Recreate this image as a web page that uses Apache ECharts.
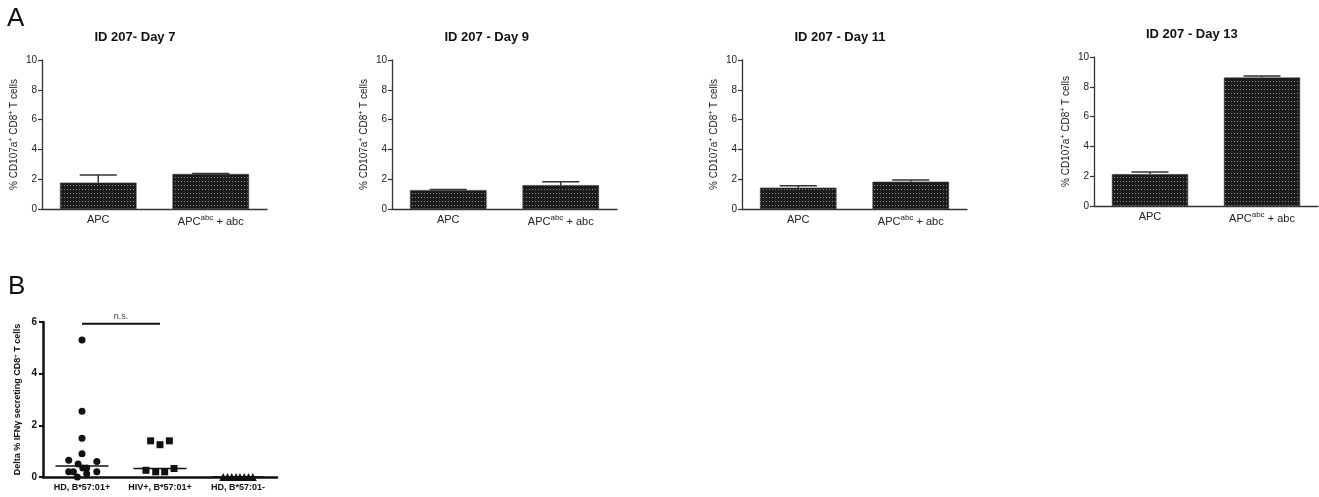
<!DOCTYPE html>
<html>
<head>
<meta charset="utf-8">
<script src="https://cdn.jsdelivr.net/npm/echarts@6/dist/echarts.min.js"></script>
<style>
html,body{margin:0;padding:0;background:#fff;}
#c{width:1319px;height:497px;}
</style>
</head>
<body>
<div id="c"></div>
<script>
// ---------- DATA ----------
const barCategories = ['APC', 'APC{sup|abc} + abc'];
const panelTitles = ['ID 207- Day 7', 'ID 207 - Day 9', 'ID 207 - Day 11', 'ID 207 - Day 13'];
const day7Mean = [1.77, 2.35];
const day7Err = [0.52, 0.04];
const day9Mean = [1.27, 1.6];
const day9Err = [0.04, 0.23];
const day11Mean = [1.43, 1.83];
const day11Err = [0.13, 0.12];
const day13Mean = [2.14, 8.62];
const day13Err = [0.15, 0.1];
const barYTicks = [0, 2, 4, 6, 8, 10];

const groupCategories = ['HD, B*57:01+', 'HIV+, B*57:01+', 'HD, B*57:01-'];
const hdPosValues = [5.3, 2.55, 1.5, 0.9, 0.65, 0.6, 0.5, 0.35, 0.35, 0.2, 0.2, 0.2, 0.13, 0.0];
const hdPosJitter = [0, 0, 0, 0, -0.17, 0.19, -0.05, 0.01, 0.06, -0.17, -0.11, 0.19, 0.06, -0.06];
const hivPosValues = [1.4, 1.25, 1.4, 0.33, 0.26, 0.2, 0.2];
const hivPosJitter = [-0.12, 0, 0.12, 0.18, -0.18, -0.055, 0.06];
const hdNegValues = [0, 0, 0, 0, 0, 0, 0, 0];
const hdNegJitter = [-0.19, -0.135, -0.08, -0.025, 0.025, 0.08, 0.135, 0.19];
const sigPairs = [[0, 1, 5.93, 'n.s.']];
const scatterYTicks = [0, 2, 4, 6];

// ---------- HELPERS ----------
const FONT = '"Liberation Sans", Arial, Helvetica, sans-serif';
function median(a) {
  const s = a.slice().sort((x, y) => x - y);
  const n = s.length;
  return n % 2 ? s[(n - 1) / 2] : (s[n / 2 - 1] + s[n / 2]) / 2;
}
const pc = document.createElement('canvas');
pc.width = 3; pc.height = 4;
const pctx = pc.getContext('2d');
pctx.fillStyle = '#1c1c1c'; pctx.fillRect(0, 0, 3, 4);
pctx.fillStyle = '#8a8a8a'; pctx.fillRect(1, 1, 1, 1);
const barPattern = { image: pc, repeat: 'repeat' };

const chart = echarts.init(document.getElementById('c'), null, { renderer: 'canvas' });

const barGrids = [
  { left: 42, top: 60, width: 225, height: 149 },
  { left: 392, top: 60, width: 225, height: 149 },
  { left: 742, top: 60, width: 225, height: 149 },
  { left: 1094, top: 57, width: 224, height: 149 }
];
const means = [day7Mean, day9Mean, day11Mean, day13Mean];
const errs = [day7Err, day9Err, day11Err, day13Err];

const grids = [], xAxes = [], yAxes = [], series = [], graphics = [];
const axisColor = '#333';

barGrids.forEach((g, i) => {
  grids.push(Object.assign({ containLabel: false }, g));
  xAxes.push({
    type: 'category', gridIndex: i, data: barCategories,
    axisLine: { onZero: false, lineStyle: { color: axisColor, width: 1.3 } },
    axisTick: { alignWithLabel: true, length: 4, lineStyle: { color: axisColor, width: 1.2 } },
    axisLabel: {
      interval: 0, hideOverlap: false,
      color: '#222', fontFamily: FONT, fontSize: 11, margin: 5,
      rich: { sup: { fontSize: 8, verticalAlign: 'top', padding: [0, 0, 7, 0], fontFamily: FONT, color: '#222' } }
    }
  });
  yAxes.push({
    type: 'value', gridIndex: i, min: barYTicks[0], max: barYTicks[barYTicks.length - 1], interval: barYTicks[1] - barYTicks[0],
    splitLine: { show: false },
    axisLine: { show: true, onZero: false, lineStyle: { color: axisColor, width: 1.3 } },
    axisTick: { show: true, length: 4, lineStyle: { color: axisColor, width: 1.2 } },
    axisLabel: { color: '#222', fontFamily: FONT, fontSize: 10, margin: 5 },
    name: '% CD107a{sup|+} CD8{sup|+} T cells',
    nameLocation: 'middle', nameGap: 22, nameRotate: 90,
    nameTextStyle: {
      color: '#222', fontFamily: FONT, fontSize: 10,
      rich: { sup: { fontSize: 7, verticalAlign: 'top', padding: [0, 0, 5, 0], fontFamily: FONT, color: '#222' } }
    }
  });
  series.push({
    type: 'bar', xAxisIndex: i, yAxisIndex: i, data: means[i], barWidth: '68%',
    itemStyle: { color: barPattern, borderColor: '#333', borderWidth: 0.6 },
    silent: true, animation: false
  });
  series.push({
    type: 'custom', xAxisIndex: i, yAxisIndex: i,
    data: means[i].map((m, k) => [k, m, errs[i][k]]),
    renderItem: function (params, api) {
      const base = api.coord([api.value(0), api.value(1)]);
      const top = api.coord([api.value(0), api.value(1) + api.value(2)]);
      const hw = api.size([1, 0])[0] * 0.165;
      const st = { stroke: '#333', lineWidth: 1.5 };
      return {
        type: 'group', children: [
          { type: 'line', shape: { x1: base[0], y1: base[1], x2: top[0], y2: top[1] }, style: st },
          { type: 'line', shape: { x1: top[0] - hw, y1: top[1], x2: top[0] + hw, y2: top[1] }, style: st }
        ]
      };
    },
    silent: true, animation: false, z: 5
  });
  graphics.push({
    type: 'text', left: g.left + g.width / 2 - 60, top: g.top - 29,
    style: { text: panelTitles[i], font: 'bold 13px ' + FONT, fill: '#111', width: 120, align: 'center' }
  });
});

// Panel B
const bi = 4;
grids.push({ left: 43, top: 322, width: 234, height: 155 });
xAxes.push({
  type: 'category', gridIndex: bi, data: groupCategories,
  axisLine: { onZero: false, lineStyle: { color: '#111', width: 2.5 } },
  axisTick: { alignWithLabel: true, length: 4, lineStyle: { color: '#111', width: 2 } },
  axisLabel: { interval: 0, hideOverlap: false, color: '#111', fontFamily: FONT, fontSize: 9, fontWeight: 'bold', margin: 6 }
});
xAxes.push({ type: 'value', gridIndex: bi, min: -0.5, max: 2.5, show: false });
yAxes.push({
  type: 'value', gridIndex: bi, min: scatterYTicks[0], max: scatterYTicks[scatterYTicks.length - 1], interval: scatterYTicks[1] - scatterYTicks[0],
  splitLine: { show: false },
  axisLine: { show: true, onZero: false, lineStyle: { color: '#111', width: 2.5 } },
  axisTick: { show: true, length: 4, lineStyle: { color: '#111', width: 2 } },
  axisLabel: { color: '#111', fontFamily: FONT, fontSize: 10, fontWeight: 'bold', margin: 6 },
  name: 'Delta % IFN\u03b3 secreting CD8{sup|+} T cells',
  nameLocation: 'middle', nameGap: 20, nameRotate: 90,
  nameTextStyle: {
    color: '#111', fontFamily: FONT, fontSize: 9, fontWeight: 'bold',
    rich: { sup: { fontSize: 6, fontWeight: 'bold', verticalAlign: 'top', padding: [0, 0, 5, 0], fontFamily: FONT, color: '#111' } }
  }
});
const groups = [
  { v: hdPosValues, j: hdPosJitter, sym: 'circle', size: 7 },
  { v: hivPosValues, j: hivPosJitter, sym: 'rect', size: 7 },
  { v: hdNegValues, j: hdNegJitter, sym: 'triangle', size: 8 }
];
groups.forEach((gr, k) => {
  series.push({
    type: 'scatter', xAxisIndex: 5, yAxisIndex: bi,
    data: gr.v.map((v, n) => [k + gr.j[n], v]),
    symbol: gr.sym, symbolSize: gr.size,
    itemStyle: { color: '#111', opacity: 1 },
    silent: true, animation: false, z: 4
  });
});
series.push({
  type: 'custom', xAxisIndex: bi, yAxisIndex: bi,
  data: groups.map((gr, k) => [k, median(gr.v)]),
  renderItem: function (params, api) {
    const c = api.coord([api.value(0), api.value(1)]);
    const hw = api.size([1, 0])[0] * 0.34;
    return { type: 'line', shape: { x1: c[0] - hw, y1: c[1], x2: c[0] + hw, y2: c[1] }, style: { stroke: '#111', lineWidth: 1.5 } };
  },
  silent: true, animation: false, z: 6
});
series.push({
  type: 'custom', xAxisIndex: bi, yAxisIndex: bi,
  data: sigPairs.map(p => [p[0], p[1], p[2]]),
  renderItem: function (params, api) {
    const a = api.coord([api.value(0), api.value(2)]);
    const b = api.coord([api.value(1), api.value(2)]);
    return {
      type: 'group', children: [
        { type: 'line', shape: { x1: a[0], y1: a[1], x2: b[0], y2: b[1] }, style: { stroke: '#111', lineWidth: 2 } },
        { type: 'text', style: { text: sigPairs[params.dataIndex][3], x: (a[0] + b[0]) / 2, y: a[1] - 3, align: 'center', verticalAlign: 'bottom', font: '9px ' + FONT, fill: '#444' } }
      ]
    };
  },
  silent: true, animation: false, z: 6
});

graphics.push({ type: 'text', left: 7, top: 6, style: { text: 'A', font: '26px ' + FONT, fill: '#111' } });
graphics.push({ type: 'text', left: 8, top: 274, style: { text: 'B', font: '26px ' + FONT, fill: '#111' } });

chart.setOption({
  animation: false,
  backgroundColor: '#fff',
  grid: grids, xAxis: xAxes, yAxis: yAxes, series: series,
  graphic: graphics
});
</script>
</body>
</html>
